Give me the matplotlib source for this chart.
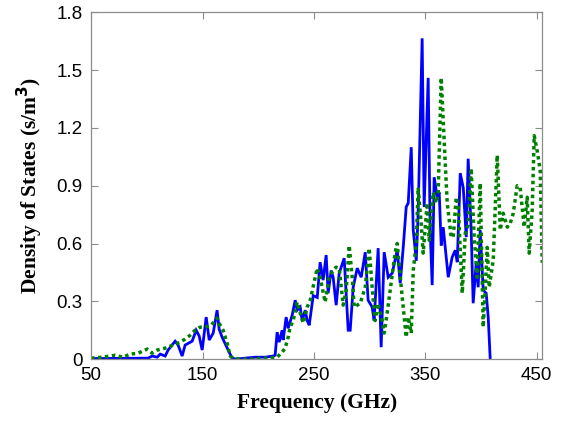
import matplotlib
matplotlib.use("Agg")
import matplotlib.pyplot as plt
import numpy as np

# Blue (solid) series: frequency in GHz, density of states
blue_f = [50, 101.2, 104.8, 109.3, 112.0, 116.5, 119.1, 125.4, 128.1, 131.7, 134.4, 140.7,
          144.3, 147.0, 149.7, 153.3, 156.0, 159.6, 163.1, 164.9, 167.6, 173.0, 176.6, 180.2,
          188.3, 197.3, 206.3, 213.4, 215.2, 217.0, 218.8, 221.5, 222.4, 225.1, 226.9, 230.5,
          233.2, 235.0, 237.7, 239.5, 242.2, 244.0, 245.8, 249.4, 253.0, 255.6, 258.3, 261.0,
          262.8, 265.5, 267.3, 270.0, 272.7, 277.2, 280.8, 282.6, 285.3, 288.9, 292.5, 296.1,
          298.7, 302.3, 304.1, 307.7, 310.4, 313.1, 316.7, 320.3, 324.8, 327.5, 330.2, 332.9,
          334.7, 337.4, 339.2, 341.9, 343.6, 347.2, 349.0, 352.6, 354.4, 356.2, 358.0, 360.7,
          362.5, 364.3, 366.1, 370.6, 374.2, 376.9, 378.7, 381.4, 384.1, 386.8, 388.5, 391.2,
          393.0, 395.7, 397.5, 399.3, 402.0, 404.7, 406.5, 408.3]
blue_v = [0.003, 0.005, 0.016, 0.010, 0.026, 0.016, 0.047, 0.093, 0.073, 0.016, 0.073, 0.093,
          0.150, 0.120, 0.047, 0.218, 0.099, 0.135, 0.254, 0.156, 0.114, 0.047, 0.005, 0.0,
          0.005, 0.010, 0.010, 0.016, 0.020, 0.140, 0.088, 0.150, 0.099, 0.218, 0.160, 0.228,
          0.306, 0.254, 0.270, 0.200, 0.254, 0.200, 0.176, 0.330, 0.320, 0.503, 0.410, 0.540,
          0.342, 0.460, 0.425, 0.280, 0.446, 0.524, 0.150, 0.150, 0.373, 0.472, 0.425, 0.555,
          0.306, 0.270, 0.200, 0.576, 0.062, 0.555, 0.425, 0.446, 0.565, 0.394, 0.580, 0.790,
          0.810, 1.100, 0.670, 0.510, 0.757, 1.665, 0.790, 1.460, 0.670, 0.384, 0.944, 0.840,
          0.866, 0.590, 0.685, 0.425, 0.530, 0.565, 0.503, 0.965, 0.890, 0.633, 1.040, 0.670,
          0.290, 0.498, 0.373, 0.670, 0.358, 0.342, 0.218, 0.0]

# Green (dotted) series
green_f = [50, 59.9, 71.6, 78.7, 85.0, 92.2, 100.3, 104.8, 109.3, 116.5, 123.6, 129.9, 134.4,
           138.9, 143.4, 147.9, 152.4, 157.8, 163.1, 165.9, 168.5, 172.1, 174.8, 177.5, 183.8,
           192.8, 206.3, 217.0, 221.5, 224.2, 226.9, 228.7, 231.4, 235.0, 237.7, 240.4, 244.0,
           246.7, 251.2, 253.0, 255.6, 260.1, 263.7, 267.3, 270.0, 272.7, 276.3, 279.0, 281.7,
           284.4, 286.2, 288.9, 291.6, 296.1, 299.6, 302.3, 305.0, 307.7, 311.3, 313.1, 315.8,
           318.5, 323.0, 324.8, 329.3, 332.9, 334.7, 337.4, 339.2, 341.9, 343.6, 346.3, 348.1,
           351.7, 353.5, 357.1, 359.8, 361.6, 364.3, 367.9, 369.7, 373.3, 375.1, 377.8, 379.6,
           383.2, 385.9, 388.5, 391.2, 393.9, 396.6, 399.3, 402.0, 403.8, 405.6, 407.4, 411.0,
           414.6, 417.3, 420.0, 423.6, 426.3, 429.0, 432.5, 435.2, 438.8, 441.5, 443.3, 446.0,
           447.8, 450.5, 453.2, 455.0]
green_v = [0.005, 0.010, 0.020, 0.010, 0.026, 0.031, 0.052, 0.031, 0.047, 0.057, 0.073, 0.088,
           0.104, 0.124, 0.150, 0.166, 0.166, 0.176, 0.213, 0.176, 0.150, 0.083, 0.016, 0.005,
           0.0, 0.0, 0.005, 0.010, 0.036, 0.057, 0.114, 0.166, 0.200, 0.296, 0.240, 0.187,
           0.270, 0.306, 0.425, 0.472, 0.425, 0.296, 0.425, 0.462, 0.477, 0.472, 0.280, 0.358,
           0.590, 0.425, 0.270, 0.280, 0.290, 0.373, 0.576, 0.373, 0.200, 0.290, 0.200, 0.135,
           0.240, 0.358, 0.555, 0.600, 0.320, 0.114, 0.218, 0.135, 0.460, 0.600, 0.890, 0.705,
           0.550, 0.810, 0.617, 0.866, 0.810, 0.866, 1.460, 1.020, 0.810, 0.633, 0.633, 0.840,
           0.790, 0.342, 0.654, 0.695, 0.990, 0.633, 0.425, 0.913, 0.166, 0.358, 0.580, 0.373,
           0.513, 1.058, 0.670, 0.757, 0.685, 0.705, 0.757, 0.900, 0.890, 0.685, 0.840, 0.550,
           0.773, 1.160, 1.080, 0.980, 0.500]

x_ticks = [50, 150, 250, 350, 450]
y_ticks = [0, 0.3, 0.6, 0.9, 1.2, 1.5, 1.8]
y_tick_labels = ["0", "0.3", "0.6", "0.9", "1.2", "1.5", "1.8"]

fig = plt.figure(figsize=(5.66, 4.24), dpi=100)
ax = fig.add_axes([0.161, 0.153, 0.797, 0.818])

ax.plot(blue_f, blue_v, color="#0000ff", lw=2.0, solid_joinstyle="miter")
ax.plot(green_f, green_v, color="#008000", lw=2.5, linestyle=(0, (1, 1)))

ax.set_xlim(50, 455)
ax.set_ylim(0, 1.8)
ax.set_xticks(x_ticks)
ax.set_yticks(y_ticks)
ax.set_yticklabels(y_tick_labels)

for s in ax.spines.values():
    s.set_color("#8c8c8c")
    s.set_linewidth(0.9)
ax.tick_params(direction="in", length=5, width=0.8, color="#8c8c8c",
               top=True, right=True, labelsize=13.5, pad=6)
for lbl in ax.get_xticklabels() + ax.get_yticklabels():
    lbl.set_family("Liberation Sans")

ax.set_xlabel("Frequency (GHz)", fontfamily="Liberation Serif", fontweight="bold",
              fontsize=15.5, labelpad=6)
ax.set_ylabel("Density of States (s/m$^\\mathbf{3}$)", fontfamily="Liberation Serif",
              fontweight="bold", fontsize=15.5, labelpad=8)

fig.savefig("out.png", dpi=100)
